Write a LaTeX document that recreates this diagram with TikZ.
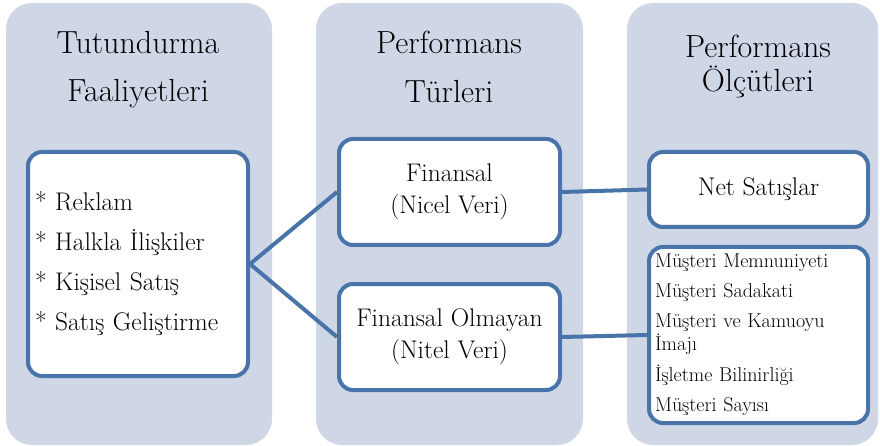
\documentclass[tikz,border=0pt]{standalone}
\usepackage{fontspec}
\definecolor{panelfill}{RGB}{207,215,231}
\definecolor{boxline}{RGB}{72,116,170}
\begin{document}
\begin{tikzpicture}[x=1pt,y=-1pt,
  panel/.style={fill=panelfill, draw=none, rounded corners=26pt, inner sep=0pt, minimum height=442pt},
  title/.style={font=\fontsize{32}{48}\selectfont, align=center, inner sep=0pt},
  box/.style={draw=boxline, line width=4pt, fill=white, rounded corners=14pt, inner sep=0pt},
  boxtext/.style={font=\fontsize{25.5}{32}\selectfont, align=center},
  conn/.style={draw=boxline, line width=4pt}]
\useasboundingbox (0,0) rectangle (880,446);
% panels
\node[panel, minimum width=266pt] (p1) at (139,224) {};
\node[panel, minimum width=267pt] (p2) at (449.5,224) {};
\node[panel, minimum width=251pt] (p3) at (752.5,224) {};
% titles
\node[title] (t1) at (138,70) {Tutundurma\\Faaliyetleri};
\node[title, font=\fontsize{32}{49}\selectfont] (t2) at (449,66.5) {Performans\\Türleri};
\node[title, font=\fontsize{32}{34}\selectfont] (t3) at (758,66) {Performans\\Ölçütleri};
% anchor points
\path (138,264) coordinate (ca) (449.5,192) coordinate (cb) (449.5,337) coordinate (cc)
      (758.5,189.5) coordinate (cd) (758.5,335) coordinate (ce);
% boxes
\node[box, minimum width=220pt, minimum height=224pt, text width=206pt, align=left,
      font=\fontsize{25.5}{40}\selectfont] (A) at (ca)
  {* Reklam\\{}* Halkla İlişkiler\\{}* Kişisel Satış\\{}* Satış Geliştirme};
\node[box, boxtext, minimum width=221pt, minimum height=106pt] (B) at (cb) {Finansal\\(Nicel Veri)};
\node[box, boxtext, minimum width=221pt, minimum height=106pt] (C) at (cc) {Finansal Olmayan\\(Nitel Veri)};
\node[box, boxtext, minimum width=219pt, minimum height=75pt] (D) at (cd) {Net Satışlar};
\node[box, minimum width=219pt, minimum height=176pt, text width=207pt, align=left,
      font=\fontsize{20}{23}\selectfont] (E) at (ce)
  {Müşteri Memnuniyeti\\[7pt]Müşteri Sadakati\\[7pt]Müşteri ve Kamuoyu\\İmajı\\[8pt]İşletme Bilinirliği\\[7pt]Müşteri Sayısı};
% connectors
\draw[conn] (A.east) -- (B.west);
\draw[conn] (A.east) -- (C.west);
\draw[conn] (B.east) -- (D.west);
\draw[conn] (C.east) -- (E.west);
\end{tikzpicture}
\end{document}
